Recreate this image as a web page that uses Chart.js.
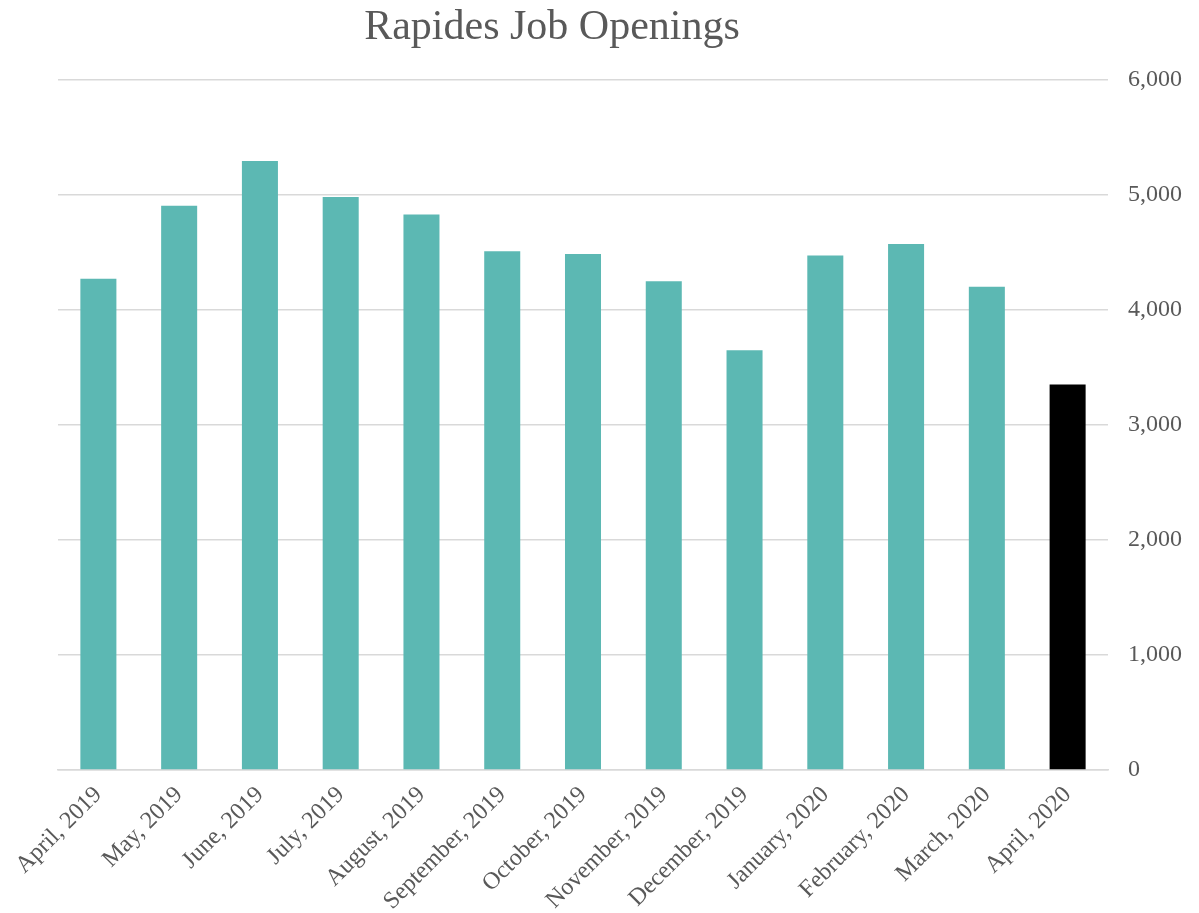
<!DOCTYPE html>
<html>
<head>
<meta charset="utf-8">
<script src="https://cdn.jsdelivr.net/npm/chart.js@4/dist/chart.umd.min.js"></script>
<style>
  html, body { margin: 0; padding: 0; background: #ffffff; }
  #wrap { width: 1199px; height: 913px; position: relative; }
</style>
</head>
<body>
<div id="wrap"><canvas id="c" width="1199" height="913"></canvas></div>
<script>
const chartTitle = "Rapides Job Openings";
const categories = ["April, 2019", "May, 2019", "June, 2019", "July, 2019", "August, 2019",
  "September, 2019", "October, 2019", "November, 2019", "December, 2019",
  "January, 2020", "February, 2020", "March, 2020", "April, 2020"];
const jobOpenings = [4272, 4906, 5295, 4982, 4831, 4510, 4488, 4251, 3651, 4475, 4573, 4202, 3353];
const yTickMin = 0;
const yTickMax = 6000;
const yTickStep = 1000;

const TEAL = "#5CB8B3";
const HIGHLIGHT = "#000000";
const TEXT = "#595959";
const GRID = "#D9D9D9";
const FONT = "'Liberation Serif', 'Times New Roman', serif";

const titlePlugin = {
  id: "customTitle",
  afterDraw(chart) {
    const ctx = chart.ctx;
    ctx.save();
    ctx.font = "42px " + FONT;
    ctx.fillStyle = TEXT;
    ctx.textAlign = "center";
    ctx.textBaseline = "alphabetic";
    ctx.fillText(chartTitle, 552, 39);
    ctx.restore();
  }
};

new Chart(document.getElementById("c"), {
  type: "bar",
  data: {
    labels: categories,
    datasets: [{
      data: jobOpenings,
      backgroundColor: (c) => c.dataIndex === categories.length - 1 ? HIGHLIGHT : TEAL,
      borderWidth: 0,
      categoryPercentage: 1.0,
      barPercentage: 0.446
    }]
  },
  options: {
    responsive: false,
    animation: false,
    devicePixelRatio: 1,
    layout: { padding: { top: 80, left: 58, right: 0, bottom: 0 } },
    plugins: {
      legend: { display: false },
      title: { display: false },
      tooltip: { enabled: false }
    },
    scales: {
      x: {
        grid: { display: false, drawTicks: false },
        border: { display: true, color: GRID, width: 1.5 },
        ticks: {
          color: TEXT,
          font: { family: FONT, size: 24 },
          minRotation: 45,
          maxRotation: 45,
          autoSkip: false,
          padding: 11
        },
        afterFit(scale) { scale.height = 913 - 770; }
      },
      y: {
        position: "right",
        min: yTickMin,
        max: yTickMax,
        grid: { color: GRID, lineWidth: 1.5, drawTicks: false },
        border: { display: false },
        ticks: {
          stepSize: yTickStep,
          color: TEXT,
          font: { family: FONT, size: 24 },
          padding: 20,
          callback: (v) => v.toLocaleString("en-US")
        },
        afterFit(scale) { scale.width = 1199 - 1108; }
      }
    }
  },
  plugins: [titlePlugin]
});
</script>
</body>
</html>
